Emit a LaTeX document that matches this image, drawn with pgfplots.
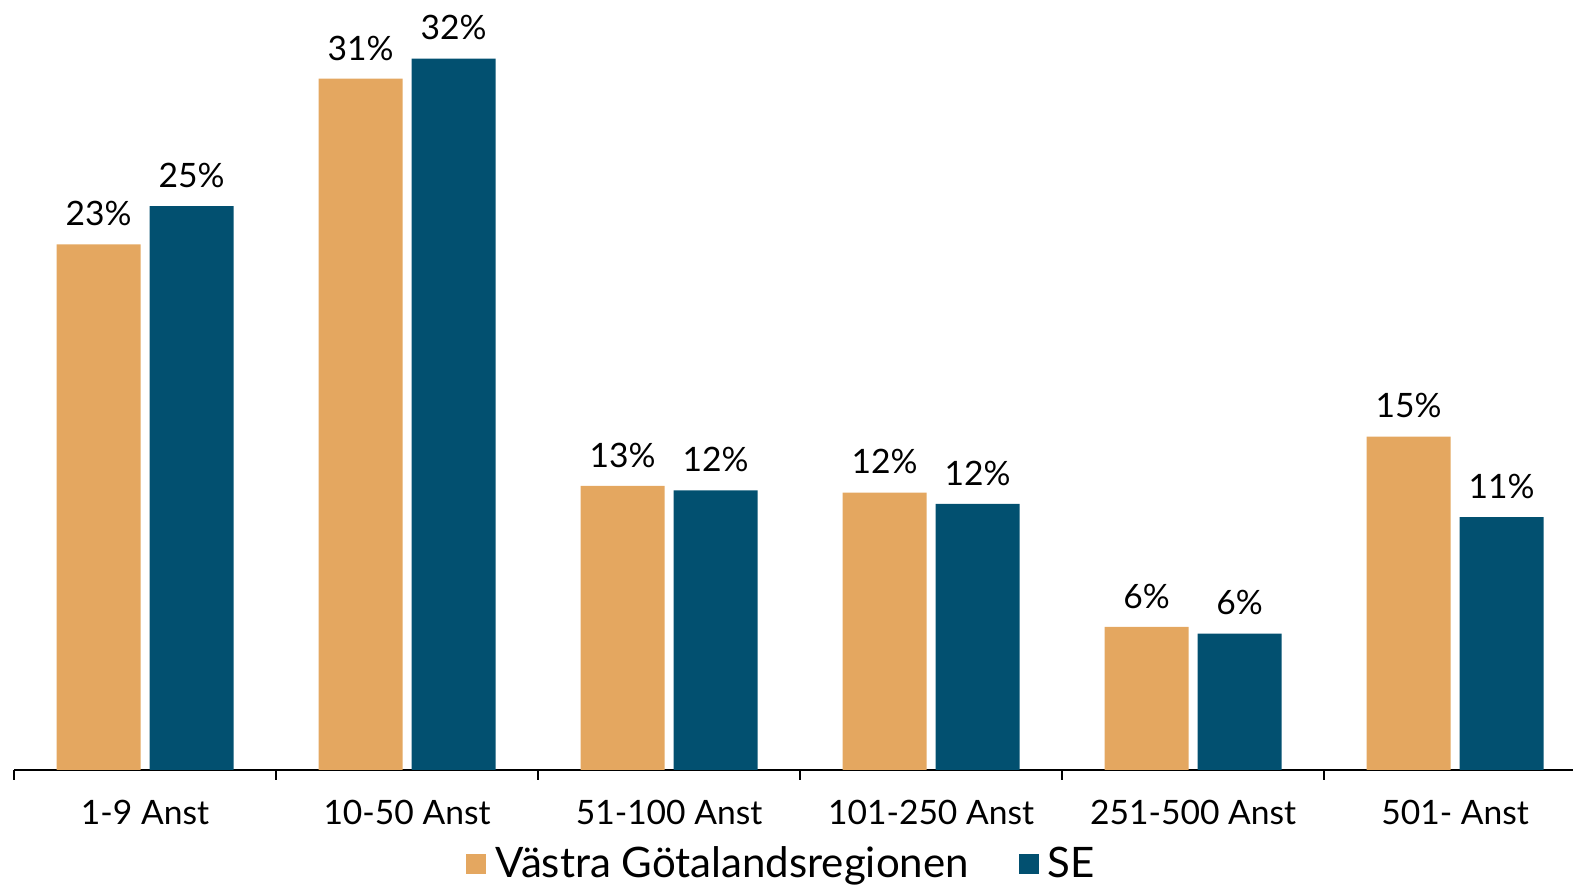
\documentclass[border=0pt]{standalone}
\usepackage{pgfplots}
\pgfplotsset{compat=1.18}
\usepackage{fontspec}
\setmainfont{Lato}
\definecolor{vgr}{RGB}{228,167,96}
\definecolor{se}{RGB}{2,80,112}
\begin{document}
\begin{tikzpicture}
\begin{axis}[
    name=ax,
    scale only axis,
    width=779.5pt, height=385pt,
    ybar=4.5pt, bar width=42pt,
    xmin=-0.5, xmax=5.45,
    ymin=0, ymax=34.42,
    axis x line=bottom, axis y line=none,
    x axis line style={-, line width=1.4pt},
    xtick={0,...,5},
    xticklabels={1-9 Anst,10-50 Anst,51-100 Anst,101-250 Anst,251-500 Anst,501- Anst},
    major tick length=0pt,
    xticklabel style={font=\fontsize{16.8}{20}\selectfont, anchor=base, inner sep=0pt, yshift=-27.3pt},
    extra x ticks={-0.5,0.5,1.5,2.5,3.5,4.5},
    extra x tick labels={},
    extra x tick style={major tick length=5pt, tick align=outside, tick style={line width=1pt, black}},
    nodes near coords,
    every node near coord/.append style={font=\fontsize{16.8}{20}\selectfont, anchor=south, inner sep=0pt, yshift=9pt, black},
    legend columns=2,
    legend style={draw=none, at={(0.493,-0.122)}, anchor=center,
        font=\fontsize{21}{25}\selectfont,
        /tikz/every even column/.append style={column sep=23pt}},
    legend image code/.code={\path[#1, draw=none] (0pt,-5pt) rectangle (10pt,5pt); \path (12.5pt,0pt);},
    clip=false,
]
\addplot+[fill=vgr, draw=none, point meta=explicit symbolic] coordinates {
    (0,23.5) [23\%]
    (1,30.9) [31\%]
    (2,12.7) [13\%]
    (3,12.4) [12\%]
    (4,6.4) [6\%]
    (5,14.9) [15\%]
};
\addplot+[fill=se, draw=none, point meta=explicit symbolic] coordinates {
    (0,25.2) [25\%]
    (1,31.8) [32\%]
    (2,12.5) [12\%]
    (3,11.9) [12\%]
    (4,6.1) [6\%]
    (5,11.3) [11\%]
};
\legend{Västra Götalandsregionen, SE}
\end{axis}
\pgfresetboundingbox
\path[use as bounding box] ([xshift=-7pt,yshift=-57.5pt]ax.south west) rectangle (ax.north east);
\end{tikzpicture}
\end{document}
